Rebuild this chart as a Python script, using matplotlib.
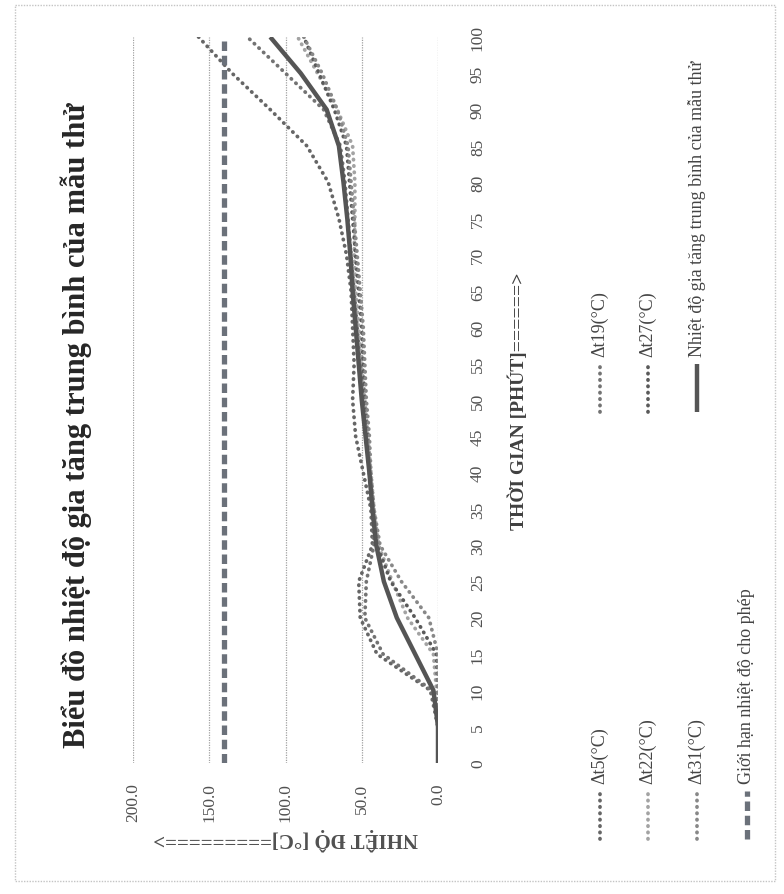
import matplotlib
matplotlib.use('Agg')
import matplotlib.pyplot as plt
from matplotlib.patches import Rectangle

# thoi gian (phut)
time = [0, 5, 10, 15, 20, 25, 30, 35, 40, 45, 50, 55, 60, 65, 70, 75, 80, 85, 90, 95, 100]

dt5 = [0, 0, 5, 40, 51, 52, 43, 44, 49, 54, 56, 55, 56, 57, 60, 65, 72, 86, 110, 135, 157]
dt19 = [0, 0, 4, 36, 48, 47, 42, 43, 45, 47, 49, 51, 53, 55, 57, 59, 61, 64, 75, 100, 125]
dt22 = [0, 0, 1, 3, 20, 30, 39, 42, 44, 46, 48, 50, 52, 54, 55, 54.5, 54.5, 56, 66, 79, 92]
dt27 = [0, 0, 0, 1, 15, 31, 40, 43, 45, 46, 48, 49, 50, 52, 54, 56, 58, 60, 68, 78, 88]
dt31 = [0, 0, 0, 0, 6, 24, 38, 42, 44, 45, 47, 48, 49, 51, 53, 55, 57, 59, 66, 76, 88]
avg = [0, 0, 3, 15, 27, 35.5, 40.5, 43, 45, 47.5, 50, 52, 54, 56, 57.5, 59.5, 62, 65, 73, 90, 110]
limit = [140] * len(time)

temp_ticks = [0, 50, 100, 150, 200]
time_ticks = list(range(0, 101, 5))

title = 'Biểu đồ nhiệt độ gia tăng trung bình của mẫu thử'
x_label = 'THỜI GIAN [PHÚT]======>'
y_label = 'NHIỆT ĐỘ [°C]=========>'

series = [
    ('Δt5(°C)', dt5, '#666666'),
    ('Δt19(°C)', dt19, '#737373'),
    ('Δt22(°C)', dt22, '#a3a3a3'),
    ('Δt27(°C)', dt27, '#5a5a5a'),
    ('Δt31(°C)', dt31, '#888888'),
]
avg_name = 'Nhiệt độ gia tăng trung bình của mẫu thử'
limit_name = 'Giới hạn nhiệt độ cho phép'

plt.rcParams['font.family'] = ['Liberation Serif', 'DejaVu Serif']

dot_style = dict(linestyle=(0, (0.1, 1.6)), linewidth=2.7, dash_capstyle='round')
avg_style = dict(color='#555555', linewidth=3.2, solid_capstyle='butt')
limit_style = dict(color='#6b717a', linestyle=(0, (1.8, 0.9)), linewidth=3.8)

fig = plt.figure(figsize=(7.84, 8.95), dpi=100)

# the whole chart is rotated 90 degrees: temperature runs right->left, time runs up
ax = fig.add_axes([133 / 784, 1 - 764 / 895, 305 / 784, 726 / 895])
for name, vals, col in series:
    ax.plot(vals, time, color=col, **dot_style)
ax.plot(limit, time, **limit_style)
ax.plot(avg, time, zorder=5, **avg_style)

ax.set_xlim(200, 0)
ax.set_ylim(0, 100)
ax.set_xticks(temp_ticks)
ax.set_xticklabels(['%.1f' % v for v in temp_ticks], rotation=90, fontsize=12.5, color='#505050')
ax.set_yticks(time_ticks)
ax.yaxis.tick_right()
ax.set_yticklabels([str(v) for v in time_ticks], rotation=90, va='center', fontsize=12.5, color='#505050')
ax.tick_params(axis='x', length=0, pad=14)
ax.tick_params(axis='y', length=0, pad=23)
ax.grid(axis='x', color='#a0a0a0', linestyle=(0, (1, 1)), linewidth=0.9)
for s in ax.spines.values():
    s.set_visible(False)

ax.set_xlabel(y_label, rotation=180, fontsize=15, fontweight='bold', color='#505050', labelpad=4)
ax.yaxis.set_label_position('right')
ax.set_ylabel(x_label, rotation=90, fontsize=14, fontweight='bold', color='#404040', labelpad=16)

fig.text(76 / 784, 1 - 425 / 895, title, rotation=90, ha='center', va='center',
         fontsize=22, fontweight='bold', color='#262626')

# overlay in pixel coordinates for the frame and the hand-made rotated legend
ov = fig.add_axes([0, 0, 1, 1], zorder=-1)
ov.set_xlim(0, 784)
ov.set_ylim(895, 0)
ov.axis('off')
ov.add_patch(Rectangle((15, 6), 760, 876, fill=False, edgecolor='#c4c4c4', linewidth=1, linestyle=(0, (1, 1))))

legend_left = [(series[0][0], series[0][2], 'dot'), (series[2][0], series[2][2], 'dot'),
               (series[4][0], series[4][2], 'dot'), (limit_name, None, 'limit')]
legend_right = [(series[1][0], series[1][2], 'dot'), (series[3][0], series[3][2], 'dot'),
                (avg_name, None, 'avg')]
cols = [600, 648, 697, 747]

for entries, y0 in [(legend_left, 840), (legend_right, 413)]:
    for (label, col, kind), x in zip(entries, cols):
        if kind == 'dot':
            ov.plot([x, x], [y0, y0 - 48], color=col, **dot_style)
        elif kind == 'avg':
            ov.plot([x, x], [y0, y0 - 48], **avg_style)
        else:
            ov.plot([x, x], [y0, y0 - 48], **limit_style)
        ov.text(x, y0 - 56, label, rotation=90, ha='center', va='bottom',
                fontsize=13, color='#444444')

fig.savefig('out.png', dpi=100)
